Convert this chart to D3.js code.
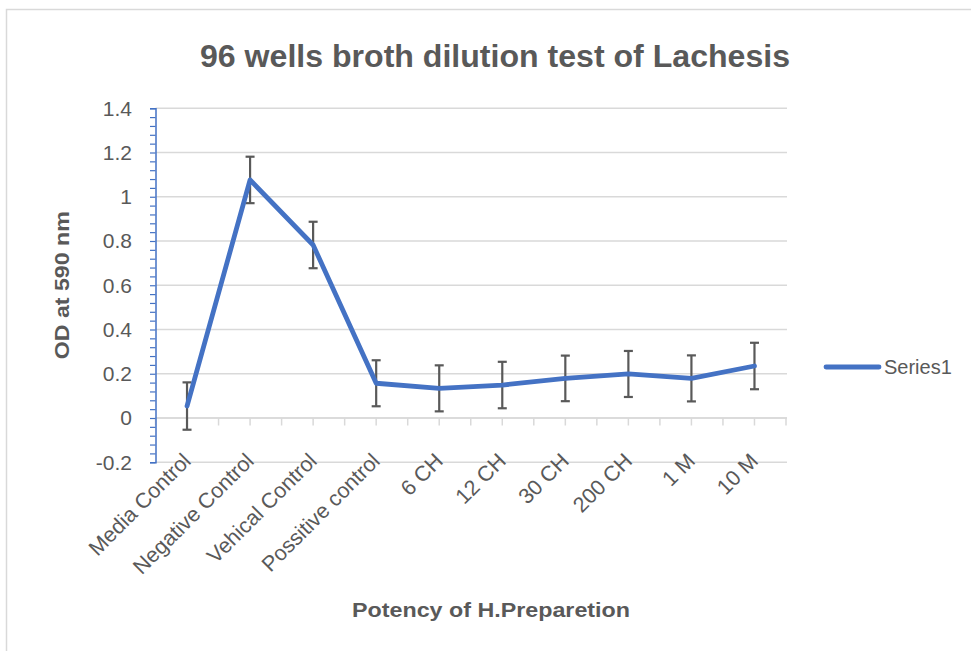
<!DOCTYPE html>
<html>
<head>
<meta charset="utf-8">
<script src="https://cdn.jsdelivr.net/npm/d3@7"></script>
<style>
  body { margin: 0; background: #fff; }
  text { font-family: "Liberation Sans", Arial, sans-serif; fill: #595959; }
</style>
</head>
<body>
<div id="chart"></div>
<script>
// Data
var categories = ["Media Control", "Negative Control", "Vehical Control", "Possitive control",
  "6 CH", "12 CH", "30 CH", "200 CH", "1 M", "10 M"];
var odValues = [0.054, 1.076, 0.782, 0.157, 0.134, 0.149, 0.179, 0.199, 0.179, 0.235];
var errValues = [0.107, 0.105, 0.105, 0.104, 0.104, 0.105, 0.103, 0.104, 0.104, 0.105];
var yTicks = [-0.2, 0, 0.2, 0.4, 0.6, 0.8, 1, 1.2, 1.4];
var seriesName = "Series1";

var svgWidth = 971;
var svgHeight = 651;
var plot = {left: 155.5, right: 786, top: 108.25, bottom: 462.25};

var svg = d3.select("#chart")
  .append("svg")
  .attr("width", svgWidth)
  .attr("height", svgHeight);

// chart border (only the top and left edges are in the picture)
svg.append("rect")
  .attr("x", 6.5).attr("y", 9.5)
  .attr("width", 1000).attr("height", 700)
  .attr("fill", "none")
  .attr("stroke", "#d9d9d9")
  .attr("stroke-width", 1.5);

// scales
var x = d3.scalePoint()
  .domain(categories)
  .range([plot.left, plot.right])
  .padding(0.5);
var step = x.step();

var y = d3.scaleLinear()
  .domain([-0.2, 1.4])
  .range([plot.bottom, plot.top]);

// gridlines
svg.append("g")
  .selectAll("line")
  .data(yTicks)
  .enter()
  .append("line")
  .attr("x1", plot.left)
  .attr("x2", plot.right + 1)
  .attr("y1", d => y(d))
  .attr("y2", d => y(d))
  .attr("stroke", "#d9d9d9")
  .attr("stroke-width", 1.5);

// category axis at zero, with ticks at each half step
var xTickPos = d3.range(0, categories.length * 2 + 1).map(i => plot.left + i * step / 2);
svg.append("line")
  .attr("x1", plot.left).attr("x2", plot.right + 1)
  .attr("y1", y(0)).attr("y2", y(0))
  .attr("stroke", "#d9d9d9")
  .attr("stroke-width", 1.5);
svg.append("g")
  .selectAll("line")
  .data(xTickPos)
  .enter()
  .append("line")
  .attr("x1", d => d).attr("x2", d => d)
  .attr("y1", y(0)).attr("y2", y(0) + 7.5)
  .attr("stroke", "#d9d9d9")
  .attr("stroke-width", 1.5);

// value axis (blue, with minor ticks)
var yAxis = d3.axisLeft(y)
  .tickValues(d3.range(0, 41).map(i => -0.2 + i * 0.04))
  .tickSize(5.5)
  .tickFormat("");
var yAxisG = svg.append("g")
  .attr("transform", `translate(${plot.left}, 0)`)
  .call(yAxis);
yAxisG.select(".domain").attr("stroke", "#4472c4").attr("stroke-width", 1.5);
yAxisG.selectAll(".tick line").attr("stroke", "#4472c4").attr("stroke-width", 1.2);

// y tick labels
svg.append("g")
  .selectAll("text")
  .data(yTicks)
  .enter()
  .append("text")
  .attr("x", 132)
  .attr("y", d => y(d))
  .attr("dy", "0.35em")
  .attr("text-anchor", "end")
  .style("font-size", "21px")
  .text(d => String(+d.toFixed(1)));

// category labels, rotated
svg.append("g")
  .selectAll("text")
  .data(categories)
  .enter()
  .append("text")
  .attr("transform", d => `translate(${x(d) + 5}, ${plot.bottom}) rotate(-45)`)
  .attr("text-anchor", "end")
  .style("font-size", "21.5px")
  .text(d => d);

// error bars
var errG = svg.append("g")
  .selectAll("g")
  .data(categories)
  .enter()
  .append("g")
  .attr("stroke", "#595959")
  .attr("stroke-width", 2.2);
errG.append("line")
  .attr("x1", d => x(d)).attr("x2", d => x(d))
  .attr("y1", (d, i) => y(odValues[i] + errValues[i]))
  .attr("y2", (d, i) => y(odValues[i] - errValues[i]));
errG.append("line")
  .attr("x1", d => x(d) - 4.5).attr("x2", d => x(d) + 4.5)
  .attr("y1", (d, i) => y(odValues[i] + errValues[i]))
  .attr("y2", (d, i) => y(odValues[i] + errValues[i]));
errG.append("line")
  .attr("x1", d => x(d) - 4.5).attr("x2", d => x(d) + 4.5)
  .attr("y1", (d, i) => y(odValues[i] - errValues[i]))
  .attr("y2", (d, i) => y(odValues[i] - errValues[i]));

// series line
var line = d3.line()
  .x((d, i) => x(categories[i]))
  .y(d => y(d));
svg.append("path")
  .datum(odValues)
  .attr("d", line)
  .attr("fill", "none")
  .attr("stroke", "#4472c4")
  .attr("stroke-width", 4.8)
  .attr("stroke-linejoin", "round")
  .attr("stroke-linecap", "round");

// legend
svg.append("line")
  .attr("x1", 826).attr("x2", 879)
  .attr("y1", 367).attr("y2", 367)
  .attr("stroke", "#4472c4")
  .attr("stroke-width", 4.8)
  .attr("stroke-linecap", "round");
svg.append("text")
  .attr("x", 884)
  .attr("y", 367)
  .attr("dy", "0.35em")
  .style("font-size", "20px")
  .text(seriesName);

// title
svg.append("text")
  .attr("x", 495)
  .attr("y", 67)
  .attr("text-anchor", "middle")
  .attr("textLength", 590)
  .attr("lengthAdjust", "spacingAndGlyphs")
  .style("font-size", "32px")
  .style("font-weight", "bold")
  .text("96 wells broth dilution test of Lachesis");

// axis titles
svg.append("text")
  .attr("transform", `translate(69, ${(plot.top + plot.bottom) / 2}) rotate(-90)`)
  .attr("text-anchor", "middle")
  .attr("textLength", 148)
  .attr("lengthAdjust", "spacingAndGlyphs")
  .style("font-size", "21px")
  .style("font-weight", "bold")
  .text("OD at 590 nm");

svg.append("text")
  .attr("x", 491)
  .attr("y", 617)
  .attr("text-anchor", "middle")
  .attr("textLength", 278)
  .attr("lengthAdjust", "spacingAndGlyphs")
  .style("font-size", "21px")
  .style("font-weight", "bold")
  .text("Potency of H.Preparetion");
</script>
</body>
</html>
